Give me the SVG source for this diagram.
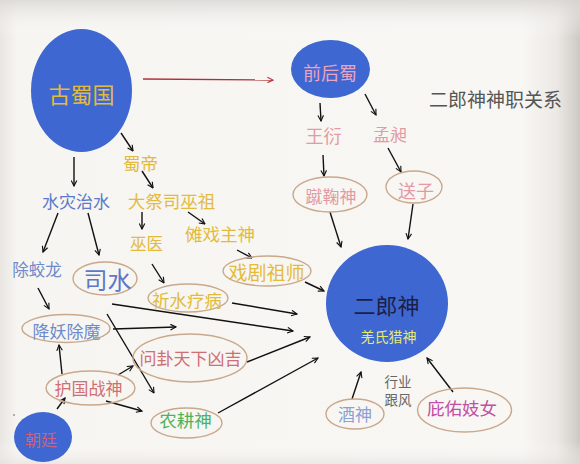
<svg xmlns="http://www.w3.org/2000/svg" width="580" height="464" viewBox="0 0 580 464">
<defs>
<linearGradient id="bgx" x1="0" y1="0" x2="1" y2="0">
<stop offset="0" stop-color="#e9e6e2"/>
<stop offset="0.03" stop-color="#f6f5f1"/>
<stop offset="0.9" stop-color="#f8f7f4"/>
<stop offset="0.96" stop-color="#ece9e5"/>
<stop offset="1" stop-color="#cdc8c3"/>
</linearGradient>
<linearGradient id="bgy" x1="0" y1="0" x2="0" y2="1">
<stop offset="0" stop-color="#d9d6d2" stop-opacity="0.8"/>
<stop offset="0.08" stop-color="#ffffff" stop-opacity="0"/>
<stop offset="0.95" stop-color="#ffffff" stop-opacity="0"/>
<stop offset="1" stop-color="#e4e0dc" stop-opacity="0.6"/>
</linearGradient>
<marker id="ah" viewBox="0 0 10 10" refX="9" refY="5" markerWidth="7" markerHeight="7" markerUnits="userSpaceOnUse" orient="auto">
<path d="M1,1 L9,5 L1,9" fill="none" stroke="#111" stroke-width="1.6"/>
</marker>
<marker id="ahr" viewBox="0 0 10 10" refX="9" refY="5" markerWidth="7" markerHeight="7" markerUnits="userSpaceOnUse" orient="auto">
<path d="M1,1 L9,5 L1,9" fill="none" stroke="#b0303a" stroke-width="1.6"/>
</marker>
<style>
text{font-family:"Noto Sans CJK SC","Noto Sans",sans-serif;text-anchor:middle;dominant-baseline:central}
.bl{fill:#3f67d2}
.ov{fill:none;stroke:#c9a88c;stroke-width:1.4}
.c line{stroke:#111;stroke-width:1.4;marker-end:url(#ah)}
.gold{fill:#e3bb3c}
.blue{fill:#6f8acb}
.pink{fill:#e39aa2}
.sal{fill:#cf6f72}
</style>
</defs>
<rect width="580" height="464" fill="url(#bgx)"/>
<rect width="580" height="464" fill="url(#bgy)"/>
<circle cx="14" cy="415" r="0.8" fill="#555"/>

<g class="c" id="connectors">
<line x1="143" y1="79" x2="273" y2="80" style="stroke:#b0303a;marker-end:url(#ahr)"/>
<line x1="320" y1="103" x2="321" y2="121"/>
<line x1="365" y1="94" x2="376" y2="115"/>
<line x1="323" y1="155" x2="324" y2="176"/>
<line x1="388" y1="148" x2="401" y2="172"/>
<line x1="330" y1="212" x2="341" y2="247"/>
<line x1="413" y1="204" x2="408" y2="239"/>
<line x1="352" y1="399" x2="361" y2="372"/>
<line x1="453" y1="392" x2="427" y2="358"/>
<line x1="74" y1="157" x2="74" y2="186"/>
<line x1="121" y1="133" x2="133" y2="151"/>
<line x1="142" y1="171" x2="153" y2="188"/>
<line x1="142" y1="212" x2="142" y2="229"/>
<line x1="188" y1="212" x2="205" y2="224"/>
<line x1="237" y1="250" x2="252" y2="258"/>
<line x1="305" y1="282" x2="324" y2="291"/>
<line x1="152" y1="264" x2="164" y2="283"/>
<line x1="232" y1="303" x2="297" y2="314"/>
<line x1="58" y1="213" x2="43" y2="252"/>
<line x1="88" y1="213" x2="99" y2="255"/>
<line x1="38" y1="288" x2="49" y2="309"/>
<line x1="112" y1="304" x2="293" y2="331"/>
<line x1="113" y1="329" x2="176" y2="327"/>
<line x1="107" y1="314" x2="154" y2="393"/>
<line x1="247" y1="362" x2="310" y2="337"/>
<line x1="218" y1="413" x2="318" y2="358"/>
<line x1="62" y1="374" x2="59" y2="345"/>
<line x1="118" y1="375" x2="133" y2="366"/>
<line x1="106" y1="401" x2="142" y2="411"/>
<line x1="57" y1="409" x2="65" y2="398"/>
</g>

<g id="gushu"><ellipse class="bl" cx="81.5" cy="90.5" rx="50.5" ry="61.5"/><text x="81.5" y="92.5" font-size="22" class="gold">古蜀国</text></g>
<g id="qianhoushu"><ellipse class="bl" cx="330.5" cy="69" rx="39.5" ry="29"/><text x="330" y="71.5" font-size="18" style="fill:#eaa3c0">前后蜀</text></g>
<g id="title"><text x="495.5" y="98.5" font-size="19" style="fill:#555">二郎神神职关系</text></g>
<g id="wangyan"><text x="323.5" y="134.5" font-size="18" class="pink">王衍</text></g>
<g id="mengchang"><text x="390" y="133" font-size="17" class="pink">孟昶</text></g>
<g id="cuju"><ellipse class="ov" cx="330" cy="194.5" rx="37" ry="17.5"/><text x="331" y="195.5" font-size="17" class="pink">蹴鞠神</text></g>
<g id="songzi"><ellipse class="ov" cx="414" cy="187" rx="28" ry="16"/><text x="416" y="190" font-size="18" class="pink">送子</text></g>
<g id="erlang"><ellipse class="bl" cx="387" cy="303.5" rx="61" ry="58.5"/><text x="386.5" y="304" font-size="22" style="fill:#1a2046">二郎神</text><text x="388.5" y="336" font-size="14" style="fill:#e9e873">羌氏猎神</text></g>
<g id="jiushen"><ellipse class="ov" cx="355" cy="414" rx="29" ry="15"/><text x="355" y="413.5" font-size="17" style="fill:#8a9fd2">酒神</text></g>
<g id="hangye"><text x="398" y="380.5" font-size="13.5" style="fill:#666">行业</text><text x="398" y="399" font-size="13.5" style="fill:#666">跟风</text></g>
<g id="biyou"><ellipse class="ov" cx="464.5" cy="410" rx="47" ry="22"/><text x="462" y="407" font-size="17.5" style="fill:#c24fa4">庇佑妓女</text></g>
<g id="shuizai"><text x="76" y="200" font-size="17" style="fill:#5b79c9">水灾治水</text></g>
<g id="shudi"><text x="140.5" y="162" font-size="17.5" class="gold">蜀帝</text></g>
<g id="dajisi"><text x="171.5" y="200" font-size="17.5" class="gold">大祭司巫祖</text></g>
<g id="wuyi"><text x="146.5" y="243" font-size="16.5" class="gold">巫医</text></g>
<g id="nuoxi"><text x="220" y="233" font-size="17.5" class="gold">傩戏主神</text></g>
<g id="xiju"><ellipse class="ov" cx="267" cy="271" rx="44" ry="15"/><text x="266.5" y="271" font-size="19" class="gold">戏剧祖师</text></g>
<g id="qishui"><ellipse class="ov" cx="188" cy="298" rx="40" ry="14"/><text x="187" y="299" font-size="17.5" class="gold">祈水疗病</text></g>
<g id="chujiaolong"><text x="37" y="269" font-size="16.5" class="blue">除蛟龙</text></g>
<g id="sishui"><ellipse class="ov" cx="105" cy="278.5" rx="32" ry="16.5"/><text x="107.5" y="278.5" font-size="24" style="fill:#5b79c9">司水</text></g>
<g id="xiangyao"><ellipse class="ov" cx="66" cy="328.5" rx="44" ry="14"/><text x="66.5" y="330" font-size="17" class="blue">降妖除魔</text></g>
<g id="wengua"><ellipse class="ov" cx="190" cy="358" rx="57" ry="24"/><text x="190.5" y="357" font-size="17" class="sal">问卦天下凶吉</text></g>
<g id="huguo"><ellipse class="ov" cx="90.5" cy="388" rx="44.5" ry="17"/><text x="88.5" y="387.5" font-size="17" class="sal">护国战神</text></g>
<g id="nonggeng"><ellipse class="ov" cx="186.5" cy="423" rx="35.5" ry="15"/><text x="185.5" y="419.5" font-size="17.5" style="fill:#4fb25e">农耕神</text></g>
<g id="chaoting"><ellipse class="bl" cx="43" cy="437" rx="29" ry="25"/><text x="41" y="439" font-size="16" style="fill:#d2607a">朝廷</text></g>
</svg>
